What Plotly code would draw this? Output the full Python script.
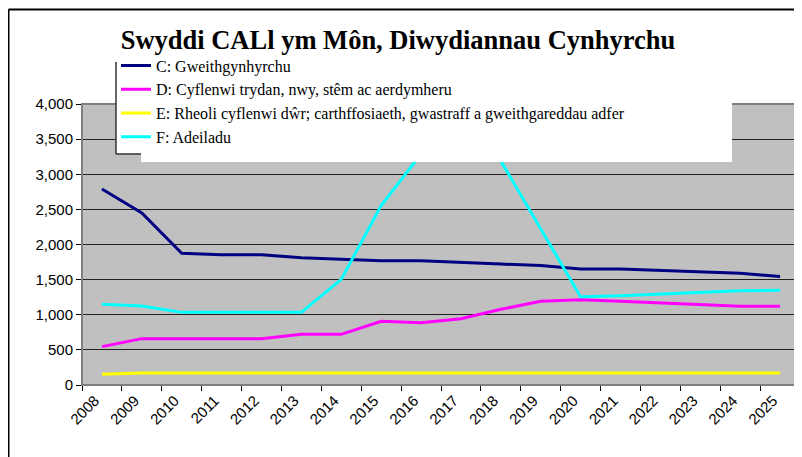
import plotly.graph_objects as go

years = [str(y) for y in range(2008, 2026)]
series_names = [
    "C: Gweithgynhyrchu",
    "D: Cyflenwi trydan, nwy, stêm ac aerdymheru",
    "E: Rheoli cyflenwi dŵr; carthffosiaeth, gwastraff a gweithgareddau adfer",
    "F: Adeiladu",
]
c_values = [2790, 2450, 1875, 1855, 1855, 1812, 1790, 1768, 1770, 1742, 1722, 1700, 1652, 1652, 1628, 1608, 1590, 1545]
d_values = [546, 660, 660, 660, 660, 721, 721, 906, 887, 944, 1077, 1191, 1215, 1191, 1167, 1143, 1120, 1120]
e_values = [152, 171, 171, 171, 171, 171, 171, 171, 171, 171, 171, 171, 171, 171, 171, 171, 171, 171]
f_values = [1148, 1125, 1034, 1034, 1034, 1034, 1504, 2555, 3290, 3600, 3190, 2220, 1255, 1272, 1295, 1319, 1343, 1348]
colors = ["#000080", "#FF00FF", "#FFFF00", "#00FFFF"]
y_ticks = [0, 500, 1000, 1500, 2000, 2500, 3000, 3500, 4000]

# page body has an 8px margin; figure is laid out in screen coords minus 8
OFF = 8
W, H = 802 - OFF, 457 - OFF
L, R, T, B = 82, 800, 104, 385  # plot area in screen pixels

def px(x):
    return (x - L) / (R - L)

def py(y):
    return (B - y) / (B - T)

fig = go.Figure()
for name, vals, col in zip(series_names, [c_values, d_values, e_values, f_values], colors):
    fig.add_trace(go.Scatter(x=years, y=vals, name=name, mode="lines",
                             line=dict(color=col, width=3), cliponaxis=True))

shapes = [
    dict(type="rect", xref="paper", yref="paper", x0=0, x1=1, y0=0, y1=1,
         line=dict(color="#808080", width=2), layer="above"),
    dict(type="rect", xref="paper", yref="paper", x0=px(116), x1=px(141), y0=py(154), y1=py(55),
         fillcolor="white", line=dict(width=0), layer="above"),
    dict(type="rect", xref="paper", yref="paper", x0=px(141), x1=px(732), y0=py(162), y1=py(55),
         fillcolor="white", line=dict(width=0), layer="above"),
    dict(type="line", xref="paper", yref="paper", x0=px(116), x1=px(116), y0=py(154), y1=py(62),
         line=dict(color="#333333", width=1.5), layer="above"),
    dict(type="line", xref="paper", yref="paper", x0=px(116), x1=px(141), y0=py(154), y1=py(154),
         line=dict(color="#333333", width=1.5), layer="above"),
    dict(type="line", xref="paper", yref="paper", x0=px(8.5), x1=px(8.5), y0=py(470), y1=py(9.5),
         line=dict(color="black", width=2), layer="above"),
    dict(type="line", xref="paper", yref="paper", x0=px(8.5), x1=px(820), y0=py(9.5), y1=py(9.5),
         line=dict(color="black", width=2), layer="above"),
]

fig.update_layout(
    width=W, height=H,
    margin=dict(l=L - OFF, r=W - (R - OFF), t=T - OFF, b=H - (B - OFF), autoexpand=False),
    paper_bgcolor="white",
    plot_bgcolor="#C0C0C0",
    title=dict(text="<b>Swyddi CALl ym Môn, Diwydiannau Cynhyrchu</b>",
               x=(398 - OFF) / W, xref="container", xanchor="center",
               y=1 - (40 - OFF) / H, yref="container", yanchor="middle",
               font=dict(family="Liberation Serif", size=26.5, color="black")),
    font=dict(family="Liberation Sans", size=14, color="black"),
    showlegend=True,
    legend=dict(x=px(116), y=py(48.5), xanchor="left", yanchor="top",
                bgcolor="rgba(0,0,0,0)", borderwidth=0,
                font=dict(family="Liberation Serif", size=16, color="black"),
                tracegroupgap=0),
    shapes=shapes,
    xaxis=dict(type="category", range=[-0.5, 17.5], tickson="boundaries", ticks="outside", ticklen=5,
               tickcolor="black", tickangle=-45, showline=True, linecolor="black",
               linewidth=1, showgrid=False, zeroline=False, automargin=False,
               ticklabelshift=-7,
               tickfont=dict(family="Liberation Sans", size=15)),
    yaxis=dict(range=[0, 4000], tickvals=y_ticks, tickformat=",", ticks="outside",
               ticklen=5, tickcolor="black", showline=True, linecolor="black",
               linewidth=1, showgrid=True, gridcolor="#202020", gridwidth=1,
               zeroline=False, automargin=False,
               tickfont=dict(family="Liberation Sans", size=15)),
)

fig.write_html("out.html")
